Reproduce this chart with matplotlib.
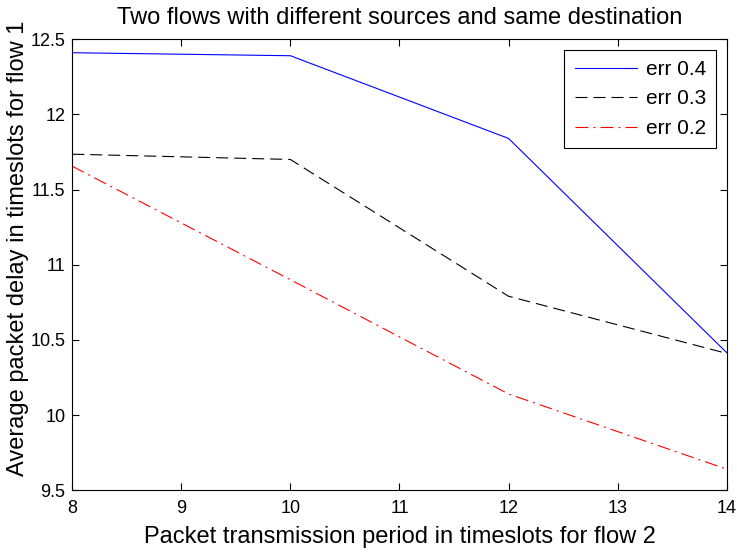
import matplotlib
matplotlib.use('Agg')
import matplotlib.pyplot as plt

plt.rcParams['font.family'] = ['Liberation Sans Narrow', 'Liberation Sans', 'DejaVu Sans']

# delay results for flow 1
period = [8, 10, 12, 14]
err04 = [12.41, 12.39, 11.84, 10.415]
err03 = [11.735, 11.70, 10.79, 10.41]
err02 = [11.655, 10.90, 10.14, 9.64]

fig = plt.figure(figsize=(7.37, 5.52), dpi=100)
ax = fig.add_axes([0.098, 0.112, 0.888, 0.817])

ax.plot(period, err04, color='b', lw=0.8, label='err 0.4')
ax.plot(period, err03, color='k', lw=0.8, ls=(0, (10.8, 5.4)), label='err 0.3')
ax.plot(period, err02, color='r', lw=0.8, ls=(0, (11.7, 4.5, 1.8, 4.5)), label='err 0.2')

ax.set_xlim(8, 14)
ax.set_ylim(9.5, 12.5)
ax.set_xticks(range(8, 15))
ax.set_yticks([9.5, 10, 10.5, 11, 11.5, 12, 12.5])
ax.set_yticklabels(['9.5', '10', '10.5', '11', '11.5', '12', '12.5'])
ax.tick_params(direction='in', top=True, right=True, length=5, width=0.8, labelsize=13)
ax.tick_params(axis='x', pad=7)
ax.tick_params(axis='y', pad=5)
for s in ax.spines.values():
    s.set_linewidth(0.8)

ax.set_title('Two flows with different sources and same destination', fontsize=17, pad=11)
ax.set_xlabel('Packet transmission period in timeslots for flow 2', fontsize=17)
ax.set_ylabel('Average packet delay in timeslots for flow 1', fontsize=17)
ax.xaxis.set_label_coords(0.5, -0.079)
ax.yaxis.set_label_coords(-0.066, 0.537)

leg = ax.legend(loc='upper right', fontsize=15, fancybox=False, framealpha=1,
                edgecolor='k', handlelength=3.0, borderaxespad=0.5, labelspacing=0.5,
                borderpad=0.5, handletextpad=0.4)
leg.get_frame().set_linewidth(0.8)

fig.savefig('out.png', dpi=100)
